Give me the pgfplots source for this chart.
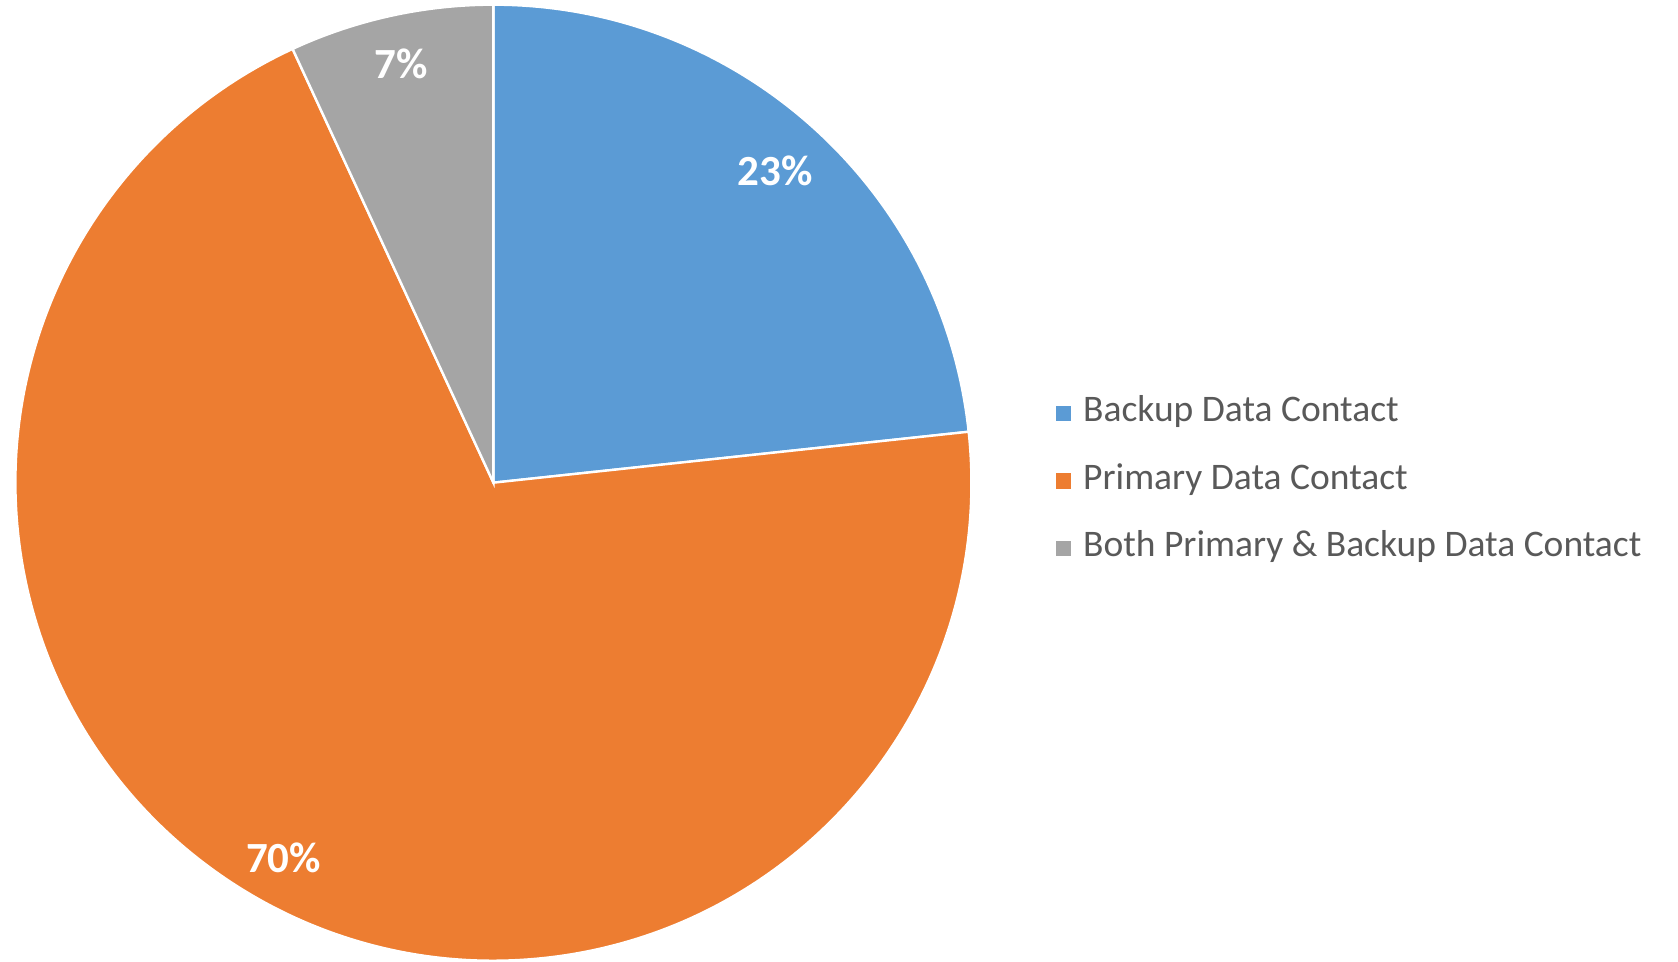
\documentclass[border=0pt]{standalone}
\usepackage{pgfplots}
\usepackage{pgfplotstable}
\pgfplotsset{compat=1.18}
\usepackage{fontspec}
\setmainfont{Carlito}
\definecolor{bkblue}{HTML}{5B9BD5}
\definecolor{pkorange}{HTML}{ED7D31}
\definecolor{bgrey}{HTML}{A5A5A5}
\definecolor{txtgrey}{HTML}{595959}
\pgfplotstableread{
slice share
1 23.3
2 69.8
3 6.9
}\piedata
\begin{document}
\begin{tikzpicture}
\pgfplotstablegetelem{0}{share}\of\piedata\let\sA\pgfplotsretval
\pgfplotstablegetelem{1}{share}\of\piedata\let\sB\pgfplotsretval
\pgfplotstablegetelem{2}{share}\of\piedata\let\sC\pgfplotsretval
\pgfmathsetmacro\aA{90}
\pgfmathsetmacro\aB{90-3.6*\sA}
\pgfmathsetmacro\aC{\aB-3.6*\sB}
\pgfmathsetmacro\aD{\aC-3.6*\sC}
\path[use as bounding box] (0,0) rectangle (839pt,481pt);
\begin{axis}[
  at={(0,0)}, anchor=origin,
  x=0.5pt, y=0.5pt,
  xmin=0, xmax=1678, ymin=0, ymax=962,
  hide axis, clip=false,
  legend image code/.code={\fill[#1] (0pt,-3.8pt) rectangle (7.6pt,3.8pt);},
  legend cell align=left,
  legend style={at={(axis cs:1056,564.3)}, anchor=north west, draw=none, fill=none,
    inner sep=0pt, outer sep=0pt, column sep=6pt, row sep=17.7pt,
    font=\fontsize{18.75}{22.5}\selectfont, text=txtgrey,
    nodes={inner sep=0pt, text height=12pt, text depth=4pt}},
]
\fill[bkblue, draw=white, line width=1.2pt] (axis cs:493.4,479.3) -- ++(\aA:239pt) arc[start angle=\aA, end angle=\aB, radius=239pt] -- cycle;
\fill[pkorange, draw=white, line width=1.2pt] (axis cs:493.4,479.3) -- ++(\aB:239pt) arc[start angle=\aB, end angle=\aC, radius=239pt] -- cycle;
\fill[bgrey, draw=white, line width=1.2pt] (axis cs:493.4,479.3) -- ++(\aC:239pt) arc[start angle=\aC, end angle=\aD, radius=239pt] -- cycle;
\node[text=white, font=\fontsize{21.5}{25}\selectfont\bfseries] at (axis cs:775,791) {23\%};
\node[text=white, font=\fontsize{21.5}{25}\selectfont\bfseries] at (axis cs:401.3,897.8) {7\%};
\node[text=white, font=\fontsize{21.5}{25}\selectfont\bfseries] at (axis cs:283.6,103.7) {70\%};
\addlegendimage{fill=bkblue, draw=none}
\addlegendentry{Backup Data Contact}
\addlegendimage{fill=pkorange, draw=none}
\addlegendentry{Primary Data Contact}
\addlegendimage{fill=bgrey, draw=none}
\addlegendentry{Both Primary \& Backup Data Contact}
\end{axis}
\end{tikzpicture}
\end{document}
